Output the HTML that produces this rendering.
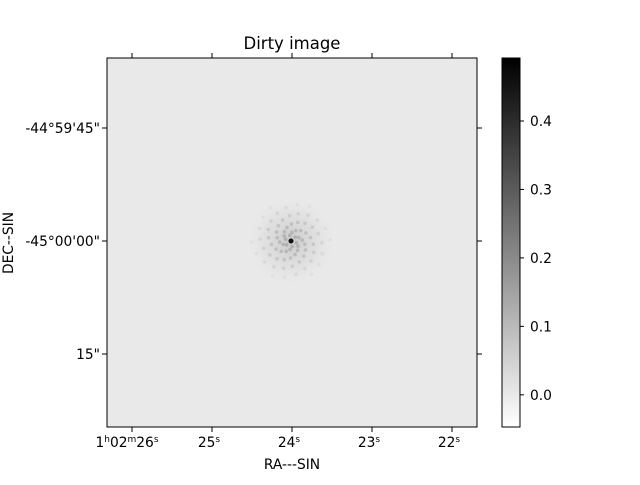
<!DOCTYPE html>
<html><head><meta charset="utf-8"><style>
body{margin:0;background:#fff}
svg text{font-family:"DejaVu Sans","Liberation Sans",sans-serif;font-size:13.8px;fill:#000}
</style></head><body>
<svg id="chart" width="640" height="480" viewBox="0 0 640 480" xmlns="http://www.w3.org/2000/svg">
<defs>
<linearGradient id="cb" x1="0" y1="1" x2="0" y2="0">
<stop offset="0" stop-color="#fff"/><stop offset="1" stop-color="#000"/>
</linearGradient>
<radialGradient id="halo" cx="0.5" cy="0.5" r="0.5">
<stop offset="0" stop-color="#c4c4c4" stop-opacity="0.9"/><stop offset="0.6" stop-color="#d8d8d8" stop-opacity="0.5"/><stop offset="1" stop-color="#e8e8e8" stop-opacity="0"/>
</radialGradient>
</defs>
<text x="292" y="49" text-anchor="middle" style="font-size:16.5px">Dirty image</text>
<g id="img">
<rect x="107" y="58" width="370" height="369" fill="#e9e9e9"/>
<circle cx="291" cy="241" r="45" fill="url(#halo)"/>
<g id="spiral"></g>
<circle cx="291" cy="241" r="2.5" fill="#111"/>
<rect x="107" y="58" width="370" height="369" fill="none" stroke="#000" stroke-width="1"/>
</g>
<g id="axes"></g>
<g id="cbar">
<rect x="502" y="58" width="18" height="369" fill="url(#cb)" stroke="#000" stroke-width="1"/>
</g>
<text x="292" y="469" text-anchor="middle">RA---SIN</text>
<text x="13" y="243" text-anchor="middle" transform="rotate(-90 13 243)">DEC--SIN</text>
</svg>
<script>
const raLabels=["1<tspan dy='-5' font-size='9'>h</tspan><tspan dy='5'>02</tspan><tspan dy='-5' font-size='9'>m</tspan><tspan dy='5'>26</tspan><tspan dy='-5' font-size='9'>s</tspan>","25<tspan dy='-5' font-size='9'>s</tspan>","24<tspan dy='-5' font-size='9'>s</tspan>","23<tspan dy='-5' font-size='9'>s</tspan>","22<tspan dy='-5' font-size='9'>s</tspan>"];
const raTicks=[26,25,24,23,22];
const decLabels=["-44°59'45\"","-45°00'00\"","15\""];
const decTicks=[-15,0,15];
const cbTicks=[0.0,0.1,0.2,0.3,0.4];
const cbMin=-0.047, cbMax=0.492;
const xs=s=>292+(24-s)*80;
const ys=d=>241+d*113/15;
const cy=v=>427-(v-cbMin)/(cbMax-cbMin)*369;
const NS="http://www.w3.org/2000/svg";
const ax=document.getElementById('axes');
function mk(t,a,p){const e=document.createElementNS(NS,t);for(const k in a)e.setAttribute(k,a[k]);(p||ax).appendChild(e);return e;}
raTicks.forEach((s,i)=>{const x=xs(s);
 const t1=mk('line',{x1:x,x2:x,y1:427,y2:432,stroke:'#000'});
 
 const t2=mk('line',{x1:x,x2:x,y1:58,y2:53,stroke:'#000'});
 
 const l=mk('text',{x:x-(i==0?5:3),y:447,'text-anchor':'middle'});l.innerHTML=raLabels[i];
 
});
decTicks.forEach((d,i)=>{const y=ys(d);
 const t1=mk('line',{x1:477,x2:482,y1:y,y2:y,stroke:'#000'});
 
 const t0=mk('line',{x1:102,x2:107,y1:y,y2:y,stroke:'#000'});
 
 const l=mk('text',{x:100,y:y+5,'text-anchor':'end'});l.textContent=decLabels[i];
 
});
const cb=document.getElementById('cbar');
cbTicks.forEach(v=>{const y=cy(v);
 const t=mk('line',{x1:520,x2:524,y1:y,y2:y,stroke:'#000'},cb);
 
 const l=mk('text',{x:530,y:y+5},cb);l.textContent=v.toFixed(1);
 
});
const armCount=[0,1,2,3,4,5];
const sp=document.getElementById('spiral');
armCount.forEach(a=>{
 for(let k=1;k<14;k++){
  const r=3+k*2.8, th=a*Math.PI/3+k*0.32;
  const c=mk('circle',{cx:291+r*Math.cos(th),cy:241+r*Math.sin(th),r:1.8,fill:'#999','fill-opacity':Math.max(0.1,0.6-k*0.04)},sp);
  
 }
});
</script>
</body></html>
